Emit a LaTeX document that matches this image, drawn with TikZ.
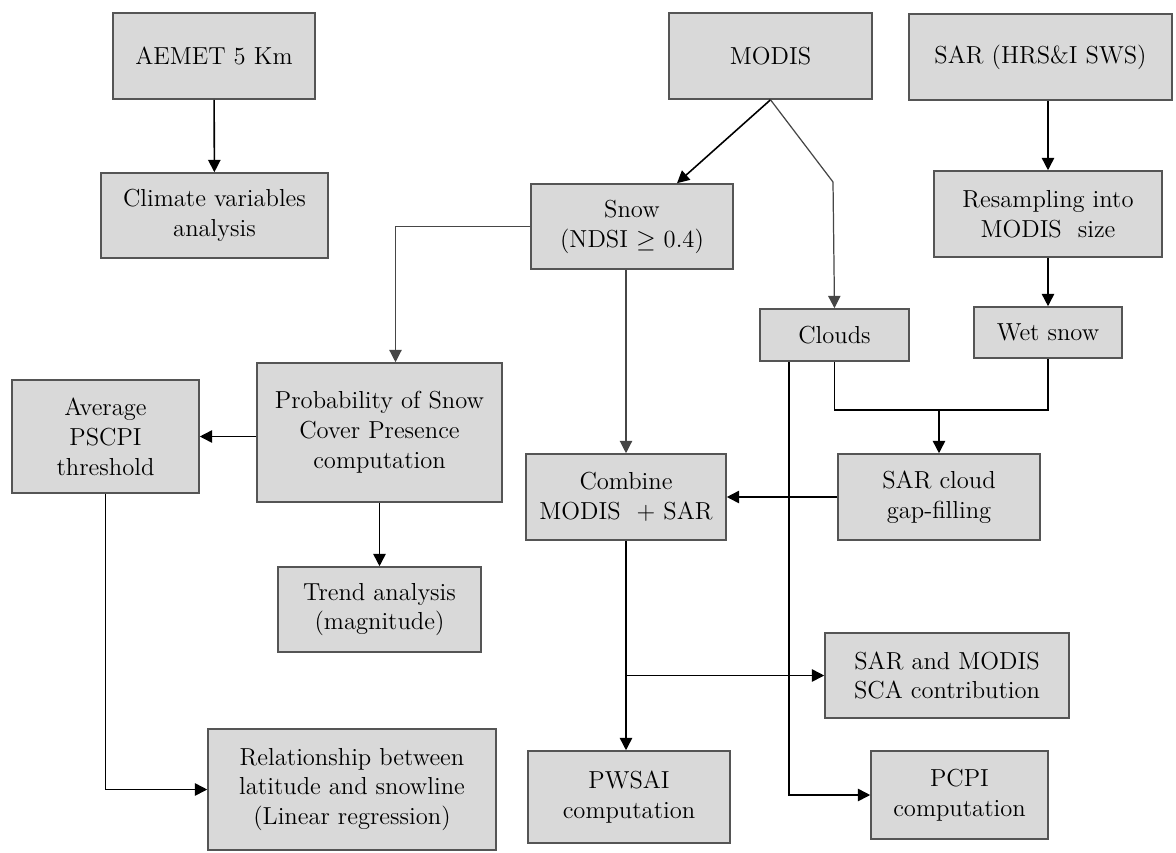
\documentclass[tikz,border=0pt]{standalone}
\usepackage{xcolor}
\usepackage{amsmath}
\usepackage{amssymb}
\usepackage{tikz}
\usetikzlibrary{arrows.meta, positioning, calc}
\definecolor{boxgray}{RGB}{217, 217, 217}
\definecolor{edgegray}{RGB}{85, 85, 85}
\definecolor{linegray}{RGB}{70, 70, 70}

\begin{document}
\begin{tikzpicture}[
    x=0.02cm, y=-0.02cm,
    box/.style={draw=edgegray, line width=0.9pt, fill=boxgray, rectangle, align=center, inner sep=2pt, font=\fontsize{14}{17}\selectfont},
    arrow/.style={->, line width=0.9pt, >={Triangle[length=7pt, width=7pt]}},
    link/.style={line width=0.9pt},
    thinlink/.style={line width=0.7pt, linegray}
]
\useasboundingbox (0,0) rectangle (1176,852);

% Climate branch (left top)
\node[box, minimum width=4.04cm, minimum height=1.72cm] (aemet) at (214, 56) {AEMET 5 Km};
\node[box, minimum width=4.54cm, minimum height=1.70cm] (climate) at (214.5, 215.5) {Climate variables\\analysis};
\draw[arrow] (aemet) -- (climate);

% Sources (top)
\node[box, minimum width=4.06cm, minimum height=1.72cm] (modis) at (770.5, 56) {MODIS};
\node[box, minimum width=5.26cm, minimum height=1.72cm] (sar) at (1040.5, 57) {SAR (HRS\&I SWS)};

% MODIS products
\node[box, minimum width=4.04cm, minimum height=1.70cm] (snow) at (632, 226.5) {Snow\\(NDSI $\geq$ 0.4)};
\node[box, minimum width=2.98cm, minimum height=1.04cm] (clouds) at (834.5, 335) {Clouds};
\coordinate (cloudbend) at (833, 182);
\draw[arrow] (modis.south) -- ([xshift=0.9cm]snow.north);
\draw[thinlink] (modis.south) -- (cloudbend);
\draw[arrow, thinlink] (cloudbend) -- (clouds.north);

% SAR products
\node[box, minimum width=4.56cm, minimum height=1.72cm] (resamp) at (1048, 214) {Resampling into\\MODIS\ \ size};
\node[box, minimum width=2.96cm, minimum height=1.02cm] (wetsnow) at (1048, 332.5) {Wet snow};
\draw[arrow] (resamp.north |- sar.south) -- (resamp.north);
\draw[arrow] (resamp) -- (wetsnow);

% Gap filling and combination
\node[box, minimum width=4.04cm, minimum height=1.72cm] (gapfill) at (939, 497) {SAR cloud\\gap-filling};
\node[box, minimum width=4.00cm, minimum height=1.72cm] (combine) at (626, 497) {Combine\\MODIS\ \ + SAR};
\coordinate (join) at (939, 409);
\draw[link] (clouds.south) -- ++(0, 48) -| (wetsnow.south);
\draw[arrow] (join) -- (gapfill.north);
\draw[arrow] (gapfill.west) -- (combine.east);
\draw[arrow, thinlink] (combine.north |- snow.south) -- (combine.north);

% Snow cover probability (left)
\node[box, minimum width=4.90cm, minimum height=2.78cm] (prob) at (379.5, 432.5) {Probability of Snow\\Cover Presence\\computation};
\node[box, minimum width=3.74cm, minimum height=2.26cm] (avg) at (105.5, 436.5) {Average\\PSCPI\\threshold};
\node[box, minimum width=4.06cm, minimum height=1.70cm] (trend) at (379.5, 609.5) {Trend analysis\\(magnitude)};
\node[box, minimum width=5.76cm, minimum height=2.42cm] (relation) at (352, 789.5) {Relationship between\\latitude and snowline\\(Linear regression)};
\draw[arrow, thinlink] (snow.west) -| ([xshift=0.32cm]prob.north);
\draw[arrow] (prob.west |- avg.east) -- (avg.east);
\draw[arrow] (prob) -- (trend);
\draw[arrow] (avg.south) |- (relation.west);

% Outputs (bottom)
\node[box, minimum width=4.88cm, minimum height=1.70cm] (sca) at (947, 675.5) {SAR and MODIS\\SCA contribution};
\node[box, minimum width=4.04cm, minimum height=1.84cm] (pwsai) at (629, 797) {PWSAI\\computation};
\node[box, minimum width=3.54cm, minimum height=1.76cm] (pcpi) at (959.5, 795) {PCPI\\computation};
\draw[arrow] (combine.south) -- (combine.south |- pwsai.north);
\draw[arrow] (combine.south |- sca.west) -- (sca.west);
\draw[arrow] ([xshift=-0.91cm]clouds.south) |- (pcpi.west);

\end{tikzpicture}
\end{document}
